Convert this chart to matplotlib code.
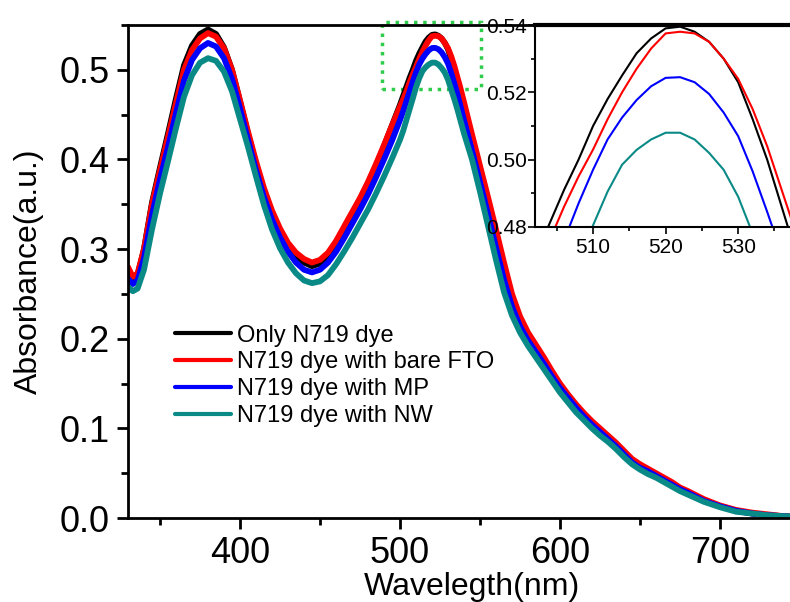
import matplotlib
matplotlib.use("Agg")
import matplotlib.pyplot as plt
from matplotlib.patches import Rectangle
from matplotlib.ticker import MultipleLocator, FixedLocator

plt.rcParams['font.family'] = ['Liberation Sans', 'DejaVu Sans']

# Wavelength grid (nm)
wl = [330, 333, 336, 340, 345, 350, 355, 360, 365, 370,
      375, 380, 385, 390, 395, 400, 405, 410, 415, 420,
      425, 430, 435, 440, 445, 450, 455, 460, 465, 470,
      475, 480, 485, 490, 495, 500, 502, 504, 506, 508,
      510, 512, 514, 516, 518, 520, 522, 524, 526, 528,
      530, 532, 534, 536, 538, 540, 545, 550, 555, 560,
      565, 570, 575, 580, 585, 590, 595, 600, 605, 610,
      615, 620, 625, 630, 635, 640, 645, 650, 655, 660,
      665, 670, 675, 680, 690, 700, 710, 720, 730, 740,
      745]

only_dye = [0.276, 0.266, 0.271, 0.300, 0.352, 0.391, 0.429, 0.468, 0.505, 0.527,
            0.540, 0.545, 0.540, 0.525, 0.500, 0.465, 0.429, 0.395, 0.365, 0.340,
            0.320, 0.304, 0.292, 0.285, 0.281, 0.284, 0.292, 0.305, 0.321, 0.338,
            0.355, 0.373, 0.393, 0.415, 0.438, 0.461, 0.471, 0.481, 0.491, 0.500,
            0.510, 0.518, 0.525, 0.5316, 0.536, 0.539, 0.5395, 0.538, 0.535, 0.530,
            0.523, 0.512, 0.500, 0.486, 0.472, 0.459, 0.423, 0.388, 0.353, 0.318,
            0.281, 0.247, 0.222, 0.204, 0.190, 0.177, 0.162, 0.148, 0.136, 0.125,
            0.115, 0.106, 0.098, 0.090, 0.082, 0.073, 0.064, 0.058, 0.053, 0.048,
            0.043, 0.038, 0.033, 0.029, 0.020, 0.013, 0.008, 0.005, 0.003, 0.002,
            0.001]

bare_fto = [0.280, 0.269, 0.273, 0.300, 0.350, 0.388, 0.425, 0.463, 0.500, 0.522,
            0.535, 0.541, 0.537, 0.524, 0.500, 0.466, 0.431, 0.398, 0.368, 0.343,
            0.323, 0.307, 0.296, 0.289, 0.285, 0.288, 0.296, 0.309, 0.325, 0.341,
            0.357, 0.375, 0.395, 0.416, 0.438, 0.459, 0.467, 0.476, 0.486, 0.495,
            0.503, 0.512, 0.520, 0.527, 0.533, 0.5375, 0.538, 0.5375, 0.535, 0.530,
            0.524, 0.515, 0.504, 0.491, 0.478, 0.464, 0.428, 0.393, 0.358, 0.322,
            0.285, 0.250, 0.225, 0.207, 0.193, 0.179, 0.164, 0.150, 0.138, 0.127,
            0.117, 0.108, 0.100, 0.092, 0.084, 0.075, 0.066, 0.060, 0.055, 0.050,
            0.045, 0.040, 0.034, 0.030, 0.021, 0.014, 0.009, 0.006, 0.004, 0.002,
            0.002]

with_mp = [0.267, 0.261, 0.265, 0.290, 0.338, 0.378, 0.414, 0.452, 0.488, 0.511,
           0.524, 0.530, 0.526, 0.513, 0.490, 0.457, 0.422, 0.388, 0.358, 0.333,
           0.313, 0.297, 0.285, 0.277, 0.274, 0.277, 0.285, 0.297, 0.312, 0.328,
           0.344, 0.361, 0.380, 0.400, 0.421, 0.444, 0.454, 0.465, 0.476, 0.487,
           0.497, 0.506, 0.5125, 0.5177, 0.5218, 0.5243, 0.5245, 0.523, 0.5195, 0.514,
           0.507, 0.4965, 0.4845, 0.472, 0.458, 0.444, 0.410, 0.375, 0.339, 0.302,
           0.266, 0.236, 0.214, 0.198, 0.185, 0.172, 0.158, 0.145, 0.134, 0.123,
           0.113, 0.104, 0.096, 0.088, 0.080, 0.071, 0.062, 0.056, 0.052, 0.047,
           0.042, 0.037, 0.032, 0.028, 0.019, 0.013, 0.008, 0.005, 0.003, 0.002,
           0.001]

with_nw = [0.258, 0.253, 0.256, 0.277, 0.322, 0.362, 0.398, 0.435, 0.470, 0.494,
           0.508, 0.513, 0.510, 0.498, 0.476, 0.445, 0.414, 0.381, 0.349, 0.322,
           0.301, 0.285, 0.273, 0.265, 0.262, 0.264, 0.271, 0.283, 0.297, 0.312,
           0.328, 0.344, 0.362, 0.381, 0.401, 0.422, 0.432, 0.444, 0.456, 0.468,
           0.4805, 0.4905, 0.4985, 0.5029, 0.506, 0.508, 0.508, 0.506, 0.502, 0.497,
           0.489, 0.478, 0.467, 0.455, 0.442, 0.429, 0.400, 0.364, 0.326, 0.288,
           0.252, 0.226, 0.207, 0.192, 0.179, 0.166, 0.153, 0.140, 0.129, 0.118,
           0.109, 0.100, 0.092, 0.085, 0.077, 0.068, 0.060, 0.054, 0.049, 0.045,
           0.040, 0.035, 0.030, 0.026, 0.018, 0.012, 0.007, 0.005, 0.003, 0.002,
           0.002]

series = [only_dye, bare_fto, with_mp, with_nw]
labels = ['Only N719 dye', 'N719 dye with bare FTO', 'N719 dye with MP', 'N719 dye with NW']
colors = ['black', '#ff0000', '#0000ff', '#0a8a86']

W, H = 790, 602
fig = plt.figure(figsize=(W / 100, H / 100), dpi=100)

# main axes (right part runs off the figure like in the original)
ax = fig.add_axes([128 / W, 84 / H, 688 / W, 493 / H])
for y, lab, c in zip(series, labels, colors):
    ax.plot(wl, y, color=c, lw=4.2, label=lab, solid_capstyle='round',
            solid_joinstyle='round')

ax.set_xlim(330, 760)
ax.set_ylim(0, 0.55)
ax.xaxis.set_major_locator(MultipleLocator(100))
ax.xaxis.set_minor_locator(MultipleLocator(50))
ax.yaxis.set_major_locator(MultipleLocator(0.1))
ax.yaxis.set_minor_locator(MultipleLocator(0.05))
ax.tick_params(which='major', direction='out', length=8, width=2, labelsize=26, pad=5)
ax.tick_params(which='minor', direction='out', length=5, width=2)
ax.yaxis.set_major_formatter(plt.FormatStrFormatter('%.1f'))
for s in ax.spines.values():
    s.set_linewidth(2)
ax.spines['right'].set_visible(False)

ax.set_xlabel('Wavelegth(nm)', fontsize=23, labelpad=0.5)
ax.set_ylabel('Absorbance(a.u.)', fontsize=23, labelpad=11)

leg = ax.legend(loc='upper left', bbox_to_anchor=(0.068, 0.392), frameon=False,
                fontsize=17, handlelength=2.4, handletextpad=0.25,
                labelspacing=0.2, borderpad=0, borderaxespad=0)
for h in leg.get_lines():
    h.set_linewidth(3)

# zoom box marker
ax.add_patch(Rectangle((488.5, 0.4784), 61.9, 0.0744, fill=False,
                       edgecolor='#2ecc4a', lw=2.5, linestyle=':', clip_on=False))

# inset
ins = fig.add_axes([535 / W, (H - 227) / H, 312 / W, 202 / H])
ins.set_facecolor('white')
for y, c in zip(series, colors):
    ins.plot(wl, y, color=c, lw=1.5)
ins.set_xlim(502, 545)
ins.set_ylim(0.48, 0.54)
ins.xaxis.set_major_locator(FixedLocator([510, 520, 530]))
ins.xaxis.set_minor_locator(FixedLocator([505, 515, 525, 535]))
ins.yaxis.set_major_locator(MultipleLocator(0.02))
ins.yaxis.set_minor_locator(MultipleLocator(0.01))
ins.yaxis.set_major_formatter(plt.FormatStrFormatter('%.2f'))
ins.tick_params(which='major', direction='out', length=5, width=1.2, labelsize=15, pad=1)
ins.tick_params(which='minor', direction='out', length=3, width=1.2)
ins.tick_params(axis='x', pad=3)
for s in ins.spines.values():
    s.set_linewidth(1.5)
ins.spines['top'].set_linewidth(3)
ins.spines['right'].set_visible(False)

fig.savefig('out.png', dpi=100)
